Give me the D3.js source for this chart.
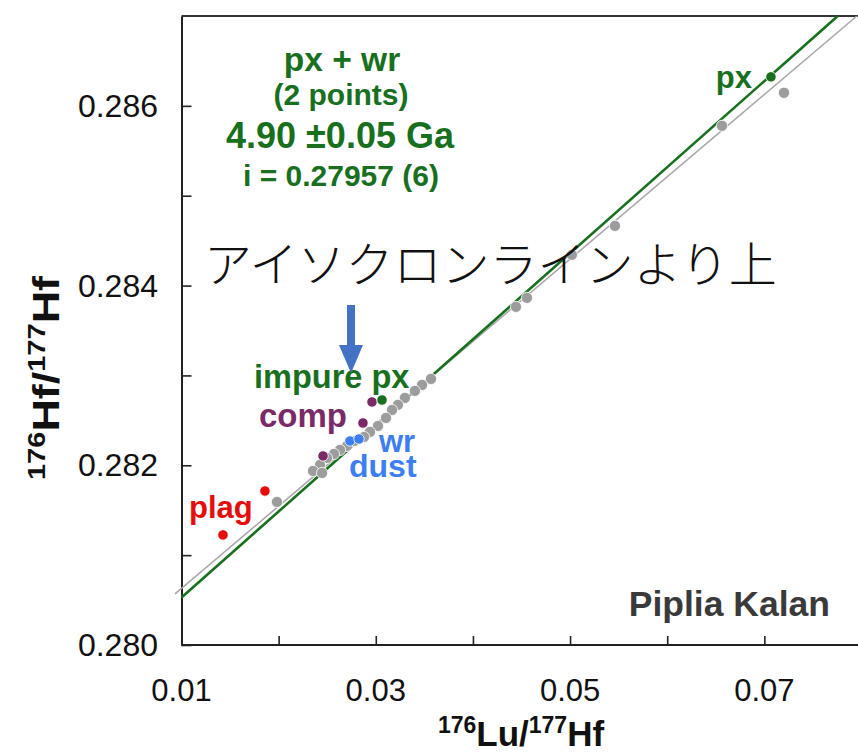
<!DOCTYPE html>
<html>
<head>
<meta charset="utf-8">
<script src="https://cdn.jsdelivr.net/npm/d3@7"></script>
<style>
  body { margin: 0; background: #fff; }
  svg { display: block; font-family: "Liberation Sans", Arial, sans-serif; }
</style>
</head>
<body>
<div id="isochron"></div>
<script>
// 176Lu/177Hf vs 176Hf/177Hf values
var grayLu = [0.07202, 0.06564, 0.05462, 0.05019, 0.04556, 0.04443, 0.03568, 0.03476, 0.03403,
    0.03300, 0.03228, 0.03167, 0.03105, 0.03023, 0.02940, 0.02879, 0.02776, 0.02704, 0.02632,
    0.02570, 0.02498, 0.02426, 0.02354, 0.02447, 0.01983];
var grayHf = [0.286145, 0.285778, 0.284664, 0.284342, 0.283863, 0.283763, 0.282961, 0.282894, 0.282828,
    0.282750, 0.282672, 0.282616, 0.282527, 0.282438, 0.282371, 0.282315, 0.282271, 0.282215, 0.282171,
    0.282126, 0.282082, 0.282004, 0.281937, 0.281915, 0.281592];

var plagLu = [0.01859, 0.01427];
var plagHf = [0.281714, 0.281225];
var compLu = [0.02961, 0.02868, 0.02457];
var compHf = [0.282705, 0.282471, 0.282104];
var wrLu = [0.02734, 0.02827];
var wrHf = [0.282271, 0.282293];
var pxLu = [0.03064, 0.07068];
var pxHf = [0.282727, 0.286323];

// isochron (px + wr) and reference line: intercept, slope, start x
var isoLine = [0.27957, 0.0958, 0.01];
var refLine = [0.279713, 0.09163, 0.00933];

var xTicks = [0.01, 0.02, 0.03, 0.04, 0.05, 0.06, 0.07];
var xTickLabels = ["0.01", "", "0.03", "", "0.05", "", "0.07"];
var yTicks = [0.280, 0.281, 0.282, 0.283, 0.284, 0.285, 0.286];
var yTickLabels = ["0.280", "", "0.282", "", "0.284", "", "0.286"];

var W = 858, H = 753;
var margin = { top: 16, left: 181.5, bottom: 108 };
var yMax = 0.287;

var green = "#18701f", purple = "#7b2a68", red = "#e60d0d", blue = "#3d7ef2";

var svg = d3.select("#isochron")
    .append("svg")
    .attr("width", W)
    .attr("height", H);

var x = d3.scaleLinear()
    .domain([0.01, 0.08])
    .range([margin.left, margin.left + 680]);
var y = d3.scaleLinear()
    .domain([0.280, yMax])
    .range([H - margin.bottom, margin.top]);

// frame: top line
svg.append("line")
    .attr("x1", x(0.01)).attr("x2", W)
    .attr("y1", y(yMax)).attr("y2", y(yMax))
    .attr("stroke", "#333").attr("stroke-width", 2);

// x axis, ticks pointing inward
var xAxis = svg.append("g")
    .attr("transform", "translate(0," + y(0.280) + ")")
    .call(d3.axisTop(x).tickValues(xTicks).tickSize(9).tickSizeOuter(0).tickFormat(""));
xAxis.select(".domain").attr("d", "M" + x(0.01) + ",0H" + W).attr("stroke", "#222").attr("stroke-width", 2);
xAxis.selectAll(".tick line").attr("stroke", "#222").attr("stroke-width", 1.6);

svg.append("g")
    .selectAll("text")
    .data(xTicks)
    .enter()
    .append("text")
    .attr("x", function (d) { return x(d); })
    .attr("y", 701)
    .attr("text-anchor", "middle")
    .attr("font-size", "31px")
    .attr("fill", "#111")
    .text(function (d, i) { return xTickLabels[i]; });

// y axis, ticks pointing inward
var yAxis = svg.append("g")
    .attr("transform", "translate(" + x(0.01) + ",0)")
    .call(d3.axisRight(y).tickValues(yTicks).tickSize(10).tickSizeOuter(0).tickFormat(""));
yAxis.select(".domain").attr("stroke", "#222").attr("stroke-width", 2);
yAxis.selectAll(".tick line").attr("stroke", "#222").attr("stroke-width", 1.6);

svg.append("g")
    .selectAll("text")
    .data(yTicks)
    .enter()
    .append("text")
    .attr("x", 158)
    .attr("y", function (d) { return y(d) + 11; })
    .attr("text-anchor", "end")
    .attr("font-size", "32px")
    .attr("fill", "#111")
    .text(function (d, i) { return yTickLabels[i]; });

// axis titles
var xTitle = svg.append("text")
    .attr("x", 521)
    .attr("y", 746)
    .attr("text-anchor", "middle")
    .attr("font-weight", "bold")
    .attr("font-size", "35px")
    .attr("fill", "#111");
xTitle.append("tspan").attr("font-size", "23px").attr("dy", -13).text("176");
xTitle.append("tspan").attr("dy", 13).text("Lu/");
xTitle.append("tspan").attr("font-size", "23px").attr("dy", -13).text("177");
xTitle.append("tspan").attr("dy", 13).text("Hf");

// the y title is drawn stretched along its length, as in the source figure
var yTitle = svg.append("text")
    .attr("transform", "translate(59,378) rotate(-90) scale(1.32,1.1)")
    .attr("text-anchor", "middle")
    .attr("font-weight", "bold")
    .attr("font-size", "34px")
    .attr("fill", "#111");
yTitle.append("tspan").attr("font-size", "22px").attr("dy", -13).text("176");
yTitle.append("tspan").attr("dy", 13).text("Hf/");
yTitle.append("tspan").attr("font-size", "22px").attr("dy", -13).text("177");
yTitle.append("tspan").attr("dy", 13).text("Hf");

// lines, each runs up to the top of the frame
function lineEnds(p) {
    var x0 = p[2], x1 = (yMax - p[0]) / p[1];
    return [[x0, p[0] + p[1] * x0], [x1, yMax]];
}
var path = d3.line()
    .x(function (d) { return x(d[0]); })
    .y(function (d) { return y(d[1]); });

svg.append("path")
    .attr("d", path(lineEnds(refLine)))
    .attr("fill", "none")
    .attr("stroke", "#a8a8a8")
    .attr("stroke-width", 1.6);
svg.append("path")
    .attr("d", path(lineEnds(isoLine)))
    .attr("fill", "none")
    .attr("stroke", green)
    .attr("stroke-width", 2.6);

// points
function dots(xs, ys, color, r) {
    svg.append("g")
        .selectAll("circle")
        .data(xs)
        .enter()
        .append("circle")
        .attr("cx", function (d) { return x(d); })
        .attr("cy", function (d, i) { return y(ys[i]); })
        .attr("r", r)
        .attr("fill", color)
        .style("stroke", "white")
        .style("stroke-width", 0.8);
}
dots(grayLu, grayHf, "#9c9c9c", 5.6);
dots(plagLu, plagHf, red, 5.2);
dots(compLu, compHf, purple, 5.2);
dots(wrLu, wrHf, blue, 5.2);
dots(pxLu, pxHf, green, 5.2);

// labels
function label(txt, lx, ly, color, size, anchor) {
    svg.append("text")
        .attr("x", lx)
        .attr("y", ly)
        .attr("text-anchor", anchor || "start")
        .attr("font-weight", "bold")
        .attr("font-size", size + "px")
        .attr("fill", color)
        .text(txt);
}
label("px + wr", 342, 71, green, 33.5, "middle");
label("(2 points)", 341, 105, green, 30, "middle");
label("4.90 \u00b10.05 Ga", 340, 148, green, 36, "middle");
label("i = 0.27957 (6)", 341, 186, green, 30, "middle");

label("px", 752, 88, green, 31, "end");
label("impure px", 254, 388, green, 32.5);
label("comp", 259, 427, purple, 33);
label("wr", 379, 452, blue, 31);
label("dust", 349, 477, blue, 32);
label("plag", 189, 518, red, 31);

svg.append("text")
    .attr("x", 830)
    .attr("y", 616)
    .attr("text-anchor", "end")
    .attr("font-weight", "bold")
    .attr("font-size", "35.5px")
    .attr("fill", "#3a3a3a")
    .text("Piplia Kalan");

// japanese note and arrow
svg.append("text")
    .attr("x", 204)
    .attr("y", 282)
    .attr("font-family", "'Noto Sans CJK JP', sans-serif")
    .attr("font-weight", 300)
    .attr("font-size", "48px")
    .attr("fill", "#111")
    .text("アイソクロンラインより上");

svg.append("path")
    .attr("d", "M347,305H355V345H363L351,373L339,345H347Z")
    .attr("fill", "#4472c4");
</script>
</body>
</html>
